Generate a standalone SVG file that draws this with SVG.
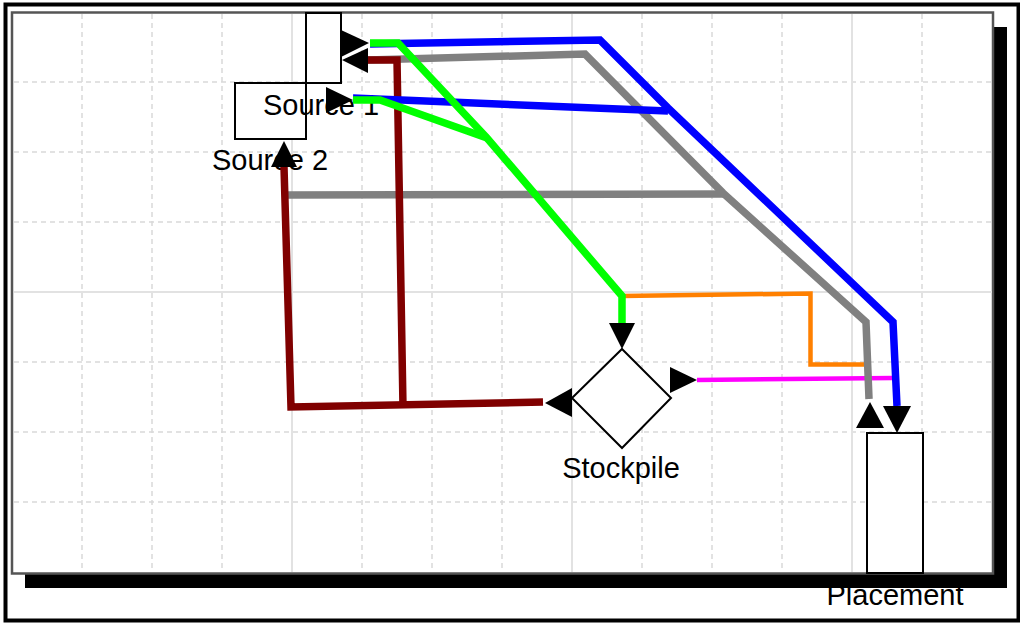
<svg xmlns="http://www.w3.org/2000/svg" width="1020" height="625" viewBox="0 0 1020 625">
<style>
.gd{stroke:#d9d9d9;stroke-width:1.5;stroke-dasharray:5,4;fill:none}
.gs{stroke:#e2e2e2;stroke-width:2;fill:none}
.node{fill:#fff;stroke:#000;stroke-width:2}
.lbl{font-family:"Liberation Sans",Arial,sans-serif;font-size:29px;fill:#000;text-anchor:middle}
.c{fill:none;stroke-linejoin:miter;stroke-linecap:butt}
.thick{stroke-width:7.5}
.thin{stroke-width:4.5}
.ah{fill:#000;stroke:none}
</style>
<rect x="0" y="0" width="1020" height="625" fill="#fff"/>
<rect x="5.5" y="4.5" width="1013" height="616" fill="#fff" stroke="#000" stroke-width="4"/>
<rect x="25" y="27" width="982" height="561" fill="#000"/>
<rect x="12" y="12.5" width="981" height="561" fill="#fff" stroke="#555" stroke-width="2.5"/>
<g id="grid">
<path class="gd" d="M82,14V572M152,14V572M222,14V572M362,14V572M432,14V572M502,14V572M642,14V572M712,14V572M782,14V572M922,14V572"/>
<path class="gd" d="M14,82H992M14,152H992M14,222H992M14,362H992M14,432H992M14,502H992"/>
<path class="gs" d="M292,14V572M572,14V572M852,14V572M14,292H992"/>
</g>
<g id="source2">
<rect class="node" x="235" y="83" width="71" height="56"/>
<text class="lbl" x="270" y="170">Source 2</text>
</g>
<g id="source1">
<rect class="node" x="306" y="13" width="35" height="70"/>
<text class="lbl" x="321" y="115">Source 1</text>
</g>
<g id="stockpile">
<polygon class="node" points="622,349 671,398 622,448 572,398"/>
<text class="lbl" x="621" y="478">Stockpile</text>
</g>
<g id="placement">
<rect class="node" x="867" y="433" width="56" height="140"/>
<text class="lbl" x="895" y="605">Placement</text>
</g>
<g id="connectors">
<path class="c thin" stroke="#ff00ff" d="M697,380 L893,378"/>
<path class="c thin" stroke="#ff8000" d="M622,296 L810.5,293.5 L810.5,364.5 L866,364.5"/>
<path class="c thick" stroke="#808080" d="M368,60 L585,54 L723,193 L866,322 L869,399"/>
<path class="c thick" stroke="#808080" d="M288,195 L723,194"/>
<path class="c thick" stroke="#800000" d="M368,60 L397,60 L403,407"/>
<path class="c thick" stroke="#800000" d="M284,167 L291,407 L543,402"/>
<path class="c thick" stroke="#0000ff" d="M370,44 L600,40 L668,108 L893,322 L897,406"/>
<path class="c thick" stroke="#0000ff" d="M353,98 L668,111"/>
<path class="c thick" stroke="#00ff00" d="M370,43 L398,43 L487,138 L622,296 L622,324"/>
<path class="c thick" stroke="#00ff00" d="M353,100 L380,100 L487,138"/>
<polygon class="ah" points="341,30 369,43 341,57"/>
<polygon class="ah" points="342,60 368,48 368,73"/>
<polygon class="ah" points="326,87 353,100 326,113"/>
<polygon class="ah" points="284,141 271,167 297,167"/>
<polygon class="ah" points="609,323 635,323 622,349"/>
<polygon class="ah" points="545,403 572,388 572,417"/>
<polygon class="ah" points="670,367 697,380 670,393"/>
<polygon class="ah" points="870,402 856,428 884,428"/>
<polygon class="ah" points="883,406 911,406 897,433"/>
</g>
</svg>
